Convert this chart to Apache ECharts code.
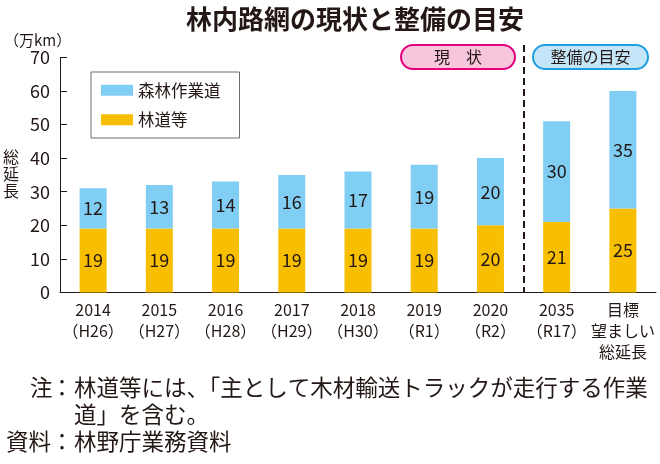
<!DOCTYPE html>
<html><head><meta charset="utf-8">
<script src="https://cdn.jsdelivr.net/npm/echarts@6/dist/echarts.min.js"></script>
<style>html,body{margin:0;padding:0;background:#fff}#c{width:660px;height:464px}</style>
</head><body><div id="c"></div>
<script>
const titleText = '林内路網の現状と整備の目安';
const unitText = '（万km）';
const yNameText = '総\n延\n長';
const categories = ['2014\n（H26）','2015\n（H27）','2016\n（H28）','2017\n（H29）','2018\n（H30）','2019\n（R1）','2020\n（R2）','2035\n（R17）','目標\n望ましい\n総延長'];
const seriesNames = ['森林作業道','林道等'];
const rindoValues = [19,19,19,19,19,19,20,21,25];
const sagyoValues = [12,13,14,16,17,19,20,30,35];
const yMin = 0, yMax = 70, yStep = 10;
const pillTexts = ['現　状','整備の目安'];
const noteLines = ['林道等には、「主として木材輸送トラックが走行する作業','道」を含む。','林野庁業務資料'];
const noteHeads = ['注','資料'];

const FONT = "'Noto Sans CJK JP', 'Noto Sans', sans-serif";
const INK = '#231815';
const BLUE = '#80cef4';
const ORANGE = '#f8bf00';

const chart = echarts.init(document.getElementById('c'), null, {renderer:'canvas'});
const option = {
  animation: false,
  textStyle: {fontFamily: FONT},
  grid: {left: 60, right: 4, top: 57.4, bottom: 171.6, containLabel: false},
  legend: {
    data: seriesNames, orient: 'vertical', left: 91, top: 72,
    itemWidth: 32, itemHeight: 11, itemGap: 13, icon: 'rect',
    padding: [10, 19, 10, 10],
    borderColor: '#6f6b6a', borderWidth: 1,
    textStyle: {fontFamily: FONT, fontSize: 16.5, color: INK}
  },
  xAxis: {
    type: 'category', data: categories,
    axisLine: {lineStyle: {color: INK, width: 1}},
    axisTick: {inside: true, length: 8, lineStyle: {color: INK}},
    axisLabel: {fontFamily: FONT, fontSize: 16, lineHeight: 21, color: INK, margin: 7, interval: 0}
  },
  yAxis: {
    type: 'value', min: yMin, max: yMax, interval: yStep,
    splitLine: {show: false},
    axisLine: {show: true, lineStyle: {color: INK, width: 1}},
    axisTick: {show: true, inside: true, length: 7, lineStyle: {color: INK}},
    axisLabel: {fontFamily: FONT, fontSize: 18, color: INK, margin: 10}
  },
  series: [
    {name: seriesNames[1], type: 'bar', stack: 'total', data: rindoValues, barWidth: 27,
     itemStyle: {color: ORANGE},
     label: {show: true, position: 'inside', fontFamily: FONT, fontSize: 18, color: INK}},
    {name: seriesNames[0], type: 'bar', stack: 'total', data: sagyoValues, barWidth: 27,
     itemStyle: {color: BLUE},
     label: {show: true, position: 'inside', fontFamily: FONT, fontSize: 18, color: INK}}
  ]
};
chart.setOption(option);

const x6 = chart.convertToPixel({xAxisIndex: 0}, categories[6]);
const x7 = chart.convertToPixel({xAxisIndex: 0}, categories[7]);
const xd = Math.round((x6 + x7) / 2);
const y0 = chart.convertToPixel({yAxisIndex: 0}, 0);
const NF = "22.5px " + FONT;

chart.setOption({
  graphic: [
    {type: 'text', x: 355, y: 19, style: {text: titleText, font: "bold 26px " + FONT, fill: INK, align: 'center', verticalAlign: 'middle'}},
    {type: 'text', x: 4, y: 40, style: {text: unitText, font: "15px " + FONT, fill: INK, align: 'left', verticalAlign: 'middle'}},
    {type: 'text', x: 11, y: 174, style: {text: yNameText, font: "16px " + FONT, lineHeight: 17, fill: INK, align: 'center', verticalAlign: 'middle'}},
    {type: 'line', shape: {x1: xd, y1: 45, x2: xd, y2: y0}, style: {stroke: INK, lineWidth: 2, lineDash: [7, 4]}},
    {type: 'rect', shape: {x: 401, y: 45, width: 114, height: 24, r: 12}, style: {fill: '#f8c6dc', stroke: '#e4007f', lineWidth: 2}},
    {type: 'text', x: 458, y: 57, style: {text: pillTexts[0], font: "16px " + FONT, fill: INK, align: 'center', verticalAlign: 'middle'}},
    {type: 'rect', shape: {x: 533, y: 45, width: 115, height: 24, r: 12}, style: {fill: '#c4e6f8', stroke: '#1f9fe0', lineWidth: 2}},
    {type: 'text', x: 590.5, y: 57, style: {text: pillTexts[1], font: "16px " + FONT, fill: INK, align: 'center', verticalAlign: 'middle'}},
    {type: 'text', x: 30, y: 387, style: {text: noteHeads[0], font: NF, fill: INK, align: 'left', verticalAlign: 'middle'}},
    {type: 'text', x: 62, y: 387, style: {text: '：', font: NF, fill: INK, align: 'center', verticalAlign: 'middle'}},
    {type: 'text', x: 74, y: 387, style: {text: noteLines[0], font: NF, fill: INK, align: 'left', verticalAlign: 'middle'}},
    {type: 'text', x: 74, y: 414, style: {text: noteLines[1], font: NF, fill: INK, align: 'left', verticalAlign: 'middle'}},
    {type: 'text', x: 6, y: 441, style: {text: noteHeads[1], font: NF, fill: INK, align: 'left', verticalAlign: 'middle'}},
    {type: 'text', x: 62, y: 441, style: {text: '：', font: NF, fill: INK, align: 'center', verticalAlign: 'middle'}},
    {type: 'text', x: 74, y: 441, style: {text: noteLines[2], font: NF, fill: INK, align: 'left', verticalAlign: 'middle'}}
  ]
});
</script>
</body></html>
